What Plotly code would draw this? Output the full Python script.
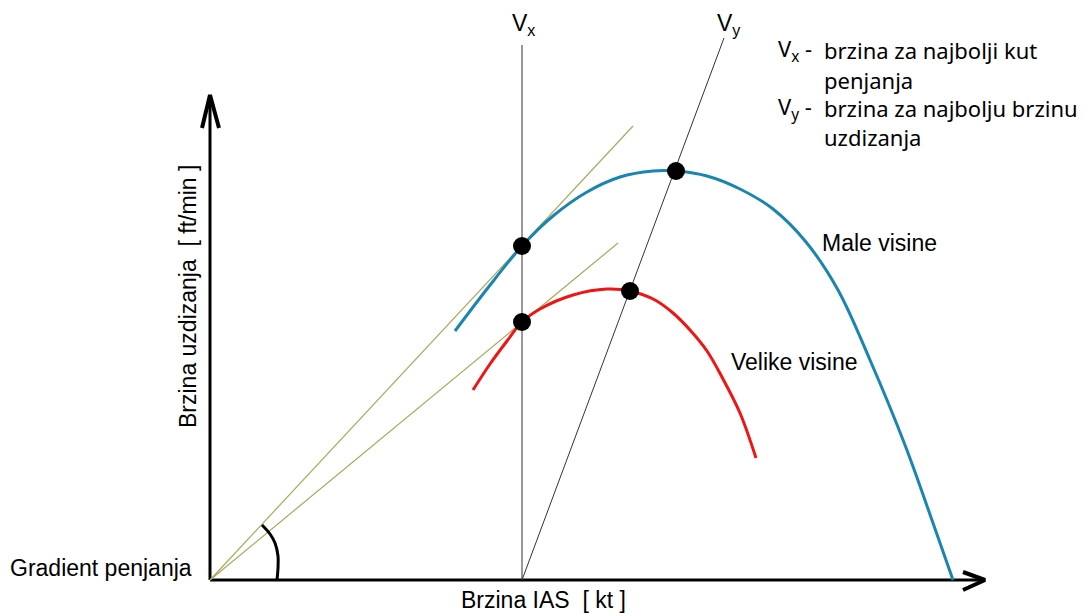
import plotly.graph_objects as go

# Diagram values (pixel space of the 1085x613 image)
origin = (210, 580)
x_axis_end = 985
y_axis_end = 95

# Male visine (low altitude) curve
blue_x = [455, 487, 522, 553, 587, 620, 653, 676, 707, 740, 773, 806, 838, 870, 905, 933, 953]
blue_y = [331, 289, 246, 216, 192, 177, 171, 171, 176, 189, 209, 242, 290, 360, 445, 523, 580]

# Velike visine (high altitude) curve
red_x = [473, 490, 507, 522, 540, 573, 607, 630, 655, 673, 690, 707, 723, 740, 756]
red_y = [390, 364, 341, 322, 309, 295, 289, 291, 300, 313, 330, 351, 379, 413, 458]

# tangent lines from the origin
tangent_x = [[210, 633], [210, 618]]
tangent_y = [[580, 126], [580, 243]]

# Vx and Vy reference lines
vx_x = [522, 522]
vx_y = [45, 580]
vy_x = [522, 724]
vy_y = [580, 38]

# points of interest
dot_x = [522, 522, 676, 630]
dot_y = [246, 322, 171, 291]

# angle arc (gradient penjanja)
arc_x = [262, 270, 275, 278, 278, 277]
arc_y = [525, 534, 543, 556, 568, 580]

fig = go.Figure()

# axes with arrows
fig.add_trace(go.Scatter(x=[origin[0], x_axis_end], y=[origin[1], origin[1]],
                         mode='lines', line=dict(color='black', width=3)))
fig.add_trace(go.Scatter(x=[origin[0], origin[0]], y=[origin[1], y_axis_end],
                         mode='lines', line=dict(color='black', width=3)))
fig.add_trace(go.Scatter(x=[963, x_axis_end, 963], y=[572, 580, 590],
                         mode='lines', line=dict(color='black', width=4)))
fig.add_trace(go.Scatter(x=[202, 210, 219], y=[128, y_axis_end, 128],
                         mode='lines', line=dict(color='black', width=4)))

# reference lines
fig.add_trace(go.Scatter(x=vx_x, y=vx_y, mode='lines', line=dict(color='#333333', width=1)))
fig.add_trace(go.Scatter(x=vy_x, y=vy_y, mode='lines', line=dict(color='#333333', width=1)))

for tx, ty in zip(tangent_x, tangent_y):
    fig.add_trace(go.Scatter(x=tx, y=ty, mode='lines', line=dict(color='#a9a85a', width=1.2)))

fig.add_trace(go.Scatter(x=arc_x, y=arc_y, mode='lines', line=dict(color='black', width=3, shape='spline')))

# curves
fig.add_trace(go.Scatter(x=blue_x, y=blue_y, mode='lines',
                         line=dict(color='#1985b0', width=3, shape='spline', smoothing=1)))
fig.add_trace(go.Scatter(x=red_x, y=red_y, mode='lines',
                         line=dict(color='#f01414', width=3, shape='spline', smoothing=1)))

fig.add_trace(go.Scatter(x=dot_x, y=dot_y, mode='markers',
                         marker=dict(color='black', size=18)))

arial = dict(family='Liberation Sans, Arial', size=23, color='black')
calibri = dict(family='Noto Sans, Open Sans', size=22, color='black')

texts = [
    dict(x=523, y=24, text='V<sub>x</sub>', font=arial, xanchor='center'),
    dict(x=729, y=24, text='V<sub>y</sub>', font=arial, xanchor='center'),
    dict(x=820, y=243, text='Male visine', font=arial, xanchor='left'),
    dict(x=729, y=362, text='Velike visine', font=arial, xanchor='left'),
    dict(x=8, y=568, text='Gradient penjanja', font=arial, xanchor='left'),
    dict(x=543, y=600, text='Brzina IAS  [ kt ]', font=arial, xanchor='center'),
    dict(x=776, y=50, text='V<sub>x</sub> -', font=calibri, xanchor='left'),
    dict(x=822, y=50, text='brzina za najbolji kut', font=calibri, xanchor='left'),
    dict(x=822, y=80, text='penjanja', font=calibri, xanchor='left'),
    dict(x=776, y=108, text='V<sub>y</sub> -', font=calibri, xanchor='left'),
    dict(x=822, y=108, text='brzina za najbolju brzinu', font=calibri, xanchor='left'),
    dict(x=822, y=137, text='uzdizanja', font=calibri, xanchor='left'),
]
for t in texts:
    fig.add_annotation(x=t['x'], y=t['y'], text=t['text'], font=t['font'],
                       xanchor=t['xanchor'], yanchor='middle', showarrow=False,
                       xref='x', yref='y')

fig.add_annotation(x=188, y=297, text='Brzina uzdizanja  [ ft/min ]', font=arial,
                   textangle=-90, showarrow=False, xref='x', yref='y')

fig.update_layout(width=1085, height=613, margin=dict(l=0, r=0, t=0, b=0),
                  showlegend=False, plot_bgcolor='white', paper_bgcolor='white',
                  xaxis=dict(range=[0, 1085], visible=False, fixedrange=True),
                  yaxis=dict(range=[613, 0], visible=False, fixedrange=True))

fig.write_html("out.html", config={'displayModeBar': False},
               post_script="document.body.style.margin='0';")
